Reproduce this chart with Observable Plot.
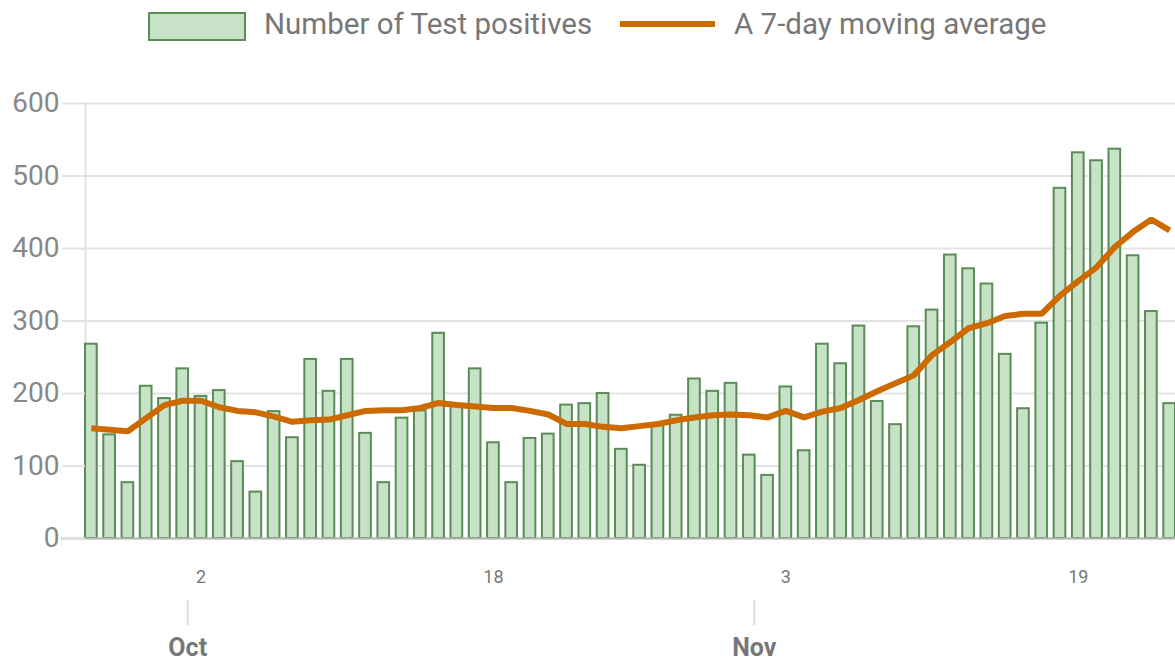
<!DOCTYPE html>
<html>
<head>
<meta charset="utf-8">
<script src="https://cdn.jsdelivr.net/npm/d3@7"></script>
<script src="https://cdn.jsdelivr.net/npm/@observablehq/plot@0.6"></script>
<style>
  html, body { margin: 0; padding: 0; background: #fff; overflow: hidden; }
  body { width: 1175px; height: 661px; font-family: Roboto, "Noto Sans", sans-serif; }
  #legend { position: relative; height: 60px; width: 1175px; }
  .sw-bar { position: absolute; left: 148px; top: 12px; width: 94px; height: 25px; background: #c7e2c7; border: 2px solid #5a8c55; }
  .sw-line { position: absolute; left: 620px; top: 21px; width: 95px; height: 6px; background: #cc6a00; }
  .lt { position: absolute; top: 5px; font-size: 29.5px; color: #777; line-height: 38px; white-space: nowrap; }
</style>
</head>
<body>
<div id="legend">
  <div class="sw-bar"></div>
  <div class="lt" style="left:264px">Number of Test positives</div>
  <div class="sw-line"></div>
  <div class="lt" style="left:734px">A 7-day moving average</div>
</div>
<div id="chart"></div>
<script>
// Categories: daily dates (first and last day of the series)
const firstDay = "2020-09-26";
const lastDayExclusive = "2020-11-25";

// Series values
const positives = [268,143,77,210,193,234,196,204,106,64,
                   175,139,247,203,247,145,77,166,176,283,
                   185,234,132,77,138,144,184,186,200,123,
                   101,157,170,220,203,214,115,87,209,121,
                   268,241,293,189,157,292,315,391,372,351,
                   254,179,297,483,532,521,537,390,313,186];
const movingAvg = [152,150,148,166,184,190,190,181,176,174,
                   168,161,163,164,170,176,177,177,180,187,
                   184,182,180,180,176,171,158,158,154,152,
                   155,158,163,167,170,171,170,167,176,167,
                   175,180,191,203,214,225,253,271,290,297,
                   307,310,310,335,355,374,402,423,440,425];

// Tick labels
const yTicks = [0, 100, 200, 300, 400, 500, 600];
const dayTicks = ["2020-10-02", "2020-10-18", "2020-11-03", "2020-11-19"];
const monthTicks = ["2020-10-01", "2020-11-01"];
const monthNames = {"10": "Oct", "11": "Nov"};

const dates = d3.utcDay.range(new Date(firstDay), new Date(lastDayExclusive)).map(d => d3.utcFormat("%Y-%m-%d")(d));
const data = dates.map((date, i) => ({date, value: positives[i], avg: movingAvg[i]}));

const chart = Plot.plot({
  width: 1175,
  height: 601,
  marginTop: 43,
  marginBottom: 123,
  marginLeft: 85,
  marginRight: 0,
  style: {fontFamily: "Roboto, 'Noto Sans', sans-serif", background: "#fff", overflow: "hidden"},
  x: {type: "band", domain: dates, paddingInner: 0.36, paddingOuter: 0, round: false},
  y: {domain: [0, 600]},
  marks: [
    Plot.gridY(yTicks, {stroke: "#e3e3e3", strokeOpacity: 1, strokeWidth: 2}),
    Plot.frame({anchor: "left", stroke: "#e3e3e3", strokeWidth: 2}),
    Plot.barY(data, {x: "date", y: "value", fill: "#c7e2c7", stroke: "#5a8c55", strokeWidth: 2}),
    Plot.ruleY([0], {stroke: "#b5b5b5", strokeWidth: 2, insetLeft: -24}),
    Plot.line(data, {x: "date", y: "avg", stroke: "#cc6a00", strokeWidth: 6, strokeLinejoin: "miter", strokeLinecap: "butt"}),
    Plot.axisY({ticks: yTicks, tickSize: 23, tickPadding: 3, fontSize: 28, fill: "#888", stroke: "#e3e3e3", strokeWidth: 2, label: null}),
    Plot.axisX({ticks: dayTicks, tickFormat: d => String(+d.slice(8)), tickSize: 0, tickPadding: 32, fontSize: 18, fill: "#777", label: null}),
    Plot.axisX({ticks: monthTicks, tickFormat: d => monthNames[d.slice(5, 7)], tickSize: 25, tickPadding: 13, dy: 62, dx: 5, fontSize: 25, fontWeight: "bold", fill: "#777", stroke: "#ddd", strokeWidth: 2, label: null})
  ]
});
document.getElementById("chart").appendChild(chart);
</script>
</body>
</html>
